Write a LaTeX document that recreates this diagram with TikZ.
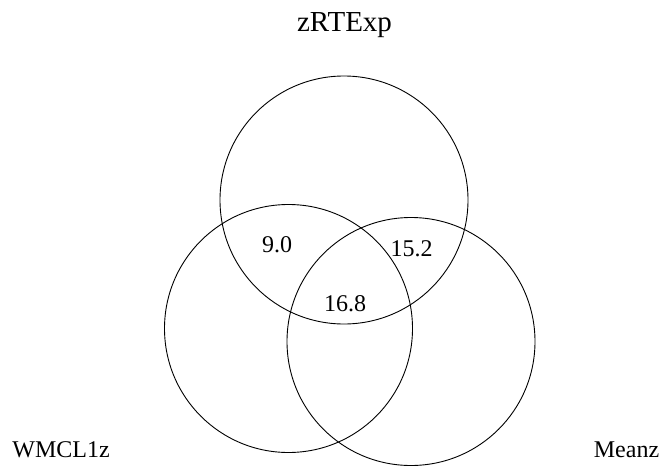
\documentclass[tikz,border=0pt]{standalone}
\usepackage{fontspec}
\setmainfont{Liberation Serif}
\begin{document}
\begin{tikzpicture}[x=1pt,y=1pt,
  setc/.style={draw=black,line width=0.9pt,circle,minimum size=248pt,inner sep=0pt},
  lbl/.style={font=\fontsize{24}{28}\selectfont,anchor=base,inner sep=0pt},
  ttl/.style={font=\fontsize{29}{34}\selectfont,anchor=base,inner sep=0pt}]
\useasboundingbox (0,0) rectangle (661,-466);
\node[setc] (A) at (344,-200) {};
\node[setc] (B) at (288.5,-328.5) {};
\node[setc] (C) at (411,-341.5) {};
\node[ttl] (tA) at (344.5,-31.5) {zRTExp};
\node[lbl] (tB) at (61,-457) {WMCL1z};
\node[lbl] (tC) at (626.5,-457) {Meanz};
\node[lbl] (ab) at (277,-252) {9.0};
\node[lbl] (ac) at (411.5,-256.5) {15.2};
\node[lbl] (abc) at (345,-311.5) {16.8};
\end{tikzpicture}
\end{document}
